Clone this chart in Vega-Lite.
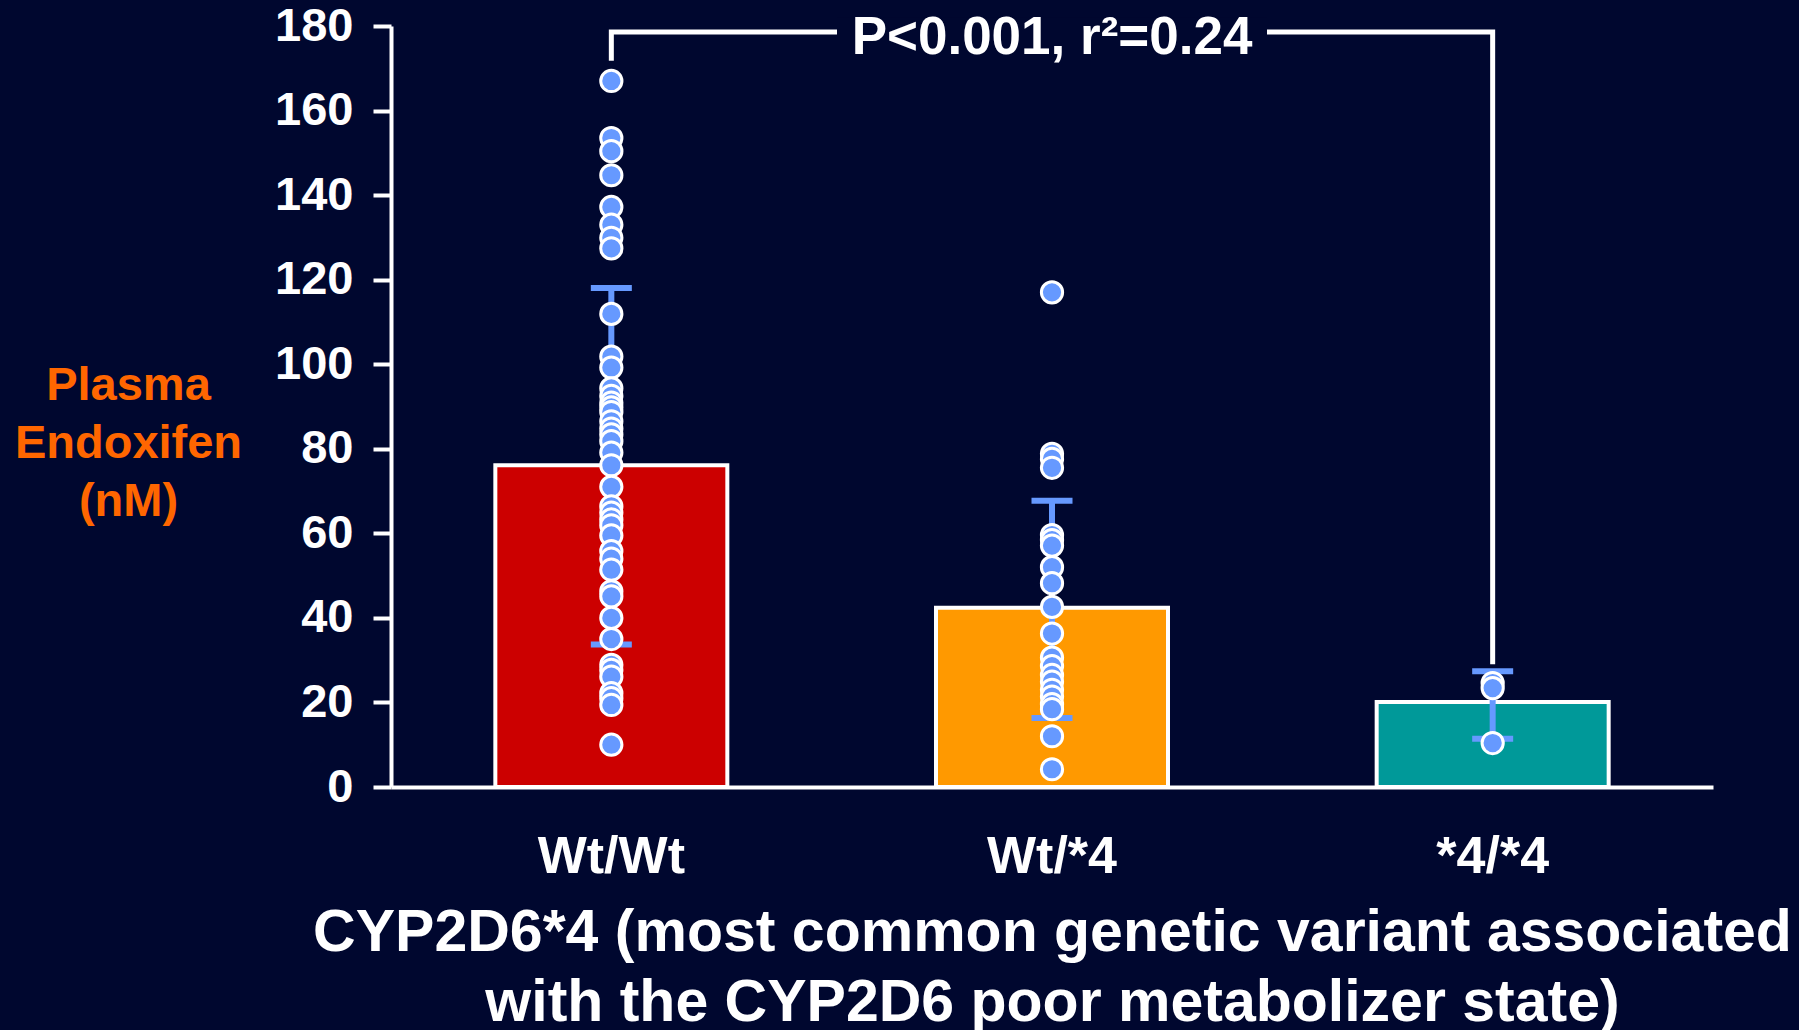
{
  "$schema": "https://vega.github.io/schema/vega-lite/v6.json",
  "width": 1322,
  "height": 761,
  "autosize": "none",
  "padding": {"left": 391, "top": 26, "right": 86, "bottom": 243},
  "background": "#00072F",
  "config": {"view": {"stroke": null}, "font": "Liberation Sans"},
  "datasets": {
    "points": [
      {"genotype": "Wt/Wt", "value": 167.0}, {"genotype": "Wt/Wt", "value": 153.5}, {"genotype": "Wt/Wt", "value": 150.4},
      {"genotype": "Wt/Wt", "value": 144.7}, {"genotype": "Wt/Wt", "value": 137.2}, {"genotype": "Wt/Wt", "value": 133.0},
      {"genotype": "Wt/Wt", "value": 129.9}, {"genotype": "Wt/Wt", "value": 127.4}, {"genotype": "Wt/Wt", "value": 111.9},
      {"genotype": "Wt/Wt", "value": 101.8}, {"genotype": "Wt/Wt", "value": 99.2}, {"genotype": "Wt/Wt", "value": 94.3},
      {"genotype": "Wt/Wt", "value": 92.5}, {"genotype": "Wt/Wt", "value": 90.9}, {"genotype": "Wt/Wt", "value": 89.8},
      {"genotype": "Wt/Wt", "value": 88.7}, {"genotype": "Wt/Wt", "value": 86.5}, {"genotype": "Wt/Wt", "value": 84.8},
      {"genotype": "Wt/Wt", "value": 83.4}, {"genotype": "Wt/Wt", "value": 81.8}, {"genotype": "Wt/Wt", "value": 79.1},
      {"genotype": "Wt/Wt", "value": 76.1}, {"genotype": "Wt/Wt", "value": 71.0}, {"genotype": "Wt/Wt", "value": 66.4},
      {"genotype": "Wt/Wt", "value": 64.9}, {"genotype": "Wt/Wt", "value": 63.3}, {"genotype": "Wt/Wt", "value": 61.9},
      {"genotype": "Wt/Wt", "value": 59.5}, {"genotype": "Wt/Wt", "value": 55.8}, {"genotype": "Wt/Wt", "value": 54.0},
      {"genotype": "Wt/Wt", "value": 51.4}, {"genotype": "Wt/Wt", "value": 46.3}, {"genotype": "Wt/Wt", "value": 45.1},
      {"genotype": "Wt/Wt", "value": 40.0}, {"genotype": "Wt/Wt", "value": 35.0}, {"genotype": "Wt/Wt", "value": 28.9},
      {"genotype": "Wt/Wt", "value": 27.7}, {"genotype": "Wt/Wt", "value": 26.1}, {"genotype": "Wt/Wt", "value": 22.2},
      {"genotype": "Wt/Wt", "value": 21.0}, {"genotype": "Wt/Wt", "value": 19.4}, {"genotype": "Wt/Wt", "value": 10.0},
      {"genotype": "Wt/*4", "value": 117.0}, {"genotype": "Wt/*4", "value": 78.8}, {"genotype": "Wt/*4", "value": 77.6},
      {"genotype": "Wt/*4", "value": 75.5}, {"genotype": "Wt/*4", "value": 59.6}, {"genotype": "Wt/*4", "value": 58.4},
      {"genotype": "Wt/*4", "value": 57.1}, {"genotype": "Wt/*4", "value": 52.0}, {"genotype": "Wt/*4", "value": 48.2},
      {"genotype": "Wt/*4", "value": 42.6}, {"genotype": "Wt/*4", "value": 36.3}, {"genotype": "Wt/*4", "value": 30.6},
      {"genotype": "Wt/*4", "value": 28.6}, {"genotype": "Wt/*4", "value": 26.5}, {"genotype": "Wt/*4", "value": 24.9},
      {"genotype": "Wt/*4", "value": 23.0}, {"genotype": "Wt/*4", "value": 21.4}, {"genotype": "Wt/*4", "value": 19.6},
      {"genotype": "Wt/*4", "value": 18.4}, {"genotype": "Wt/*4", "value": 12.0}, {"genotype": "Wt/*4", "value": 4.2},
      {"genotype": "*4/*4", "value": 24.6}, {"genotype": "*4/*4", "value": 23.4}, {"genotype": "*4/*4", "value": 10.4}
    ],
    "summary": [
      {"genotype": "Wt/Wt", "mean": 76.1, "lo": 33.7, "hi": 118.0},
      {"genotype": "Wt/*4", "mean": 42.4, "lo": 16.3, "hi": 67.7},
      {"genotype": "*4/*4", "mean": 20.1, "lo": 11.4, "hi": 27.4}
    ],
    "bracket": [
      {"genotype": "Wt/Wt", "value": 172.4, "step": 1},
      {"genotype": "Wt/Wt", "value": 178.6, "step": 2},
      {"genotype": "*4/*4", "value": 178.6, "step": 3},
      {"genotype": "*4/*4", "value": 29.6, "step": 4}
    ],
    "annotation": [
      {"genotype": "Wt/*4", "value": 178.6, "label": "P<0.001, r²=0.24"}
    ]
  },
  "layer": [
    {
      "data": {"name": "summary"},
      "mark": {"type": "bar", "size": 232, "stroke": "white", "strokeWidth": 4},
      "encoding": {
        "x": {
          "field": "genotype", "type": "nominal", "sort": ["Wt/Wt", "Wt/*4", "*4/*4"],
          "scale": {"paddingInner": 0, "paddingOuter": 0},
          "axis": {
            "title": ["CYP2D6*4 (most common genetic variant associated", "with the CYP2D6 poor metabolizer state)"],
            "titleFont": "Liberation Sans", "titleFontSize": 59, "titleFontWeight": "bold", "titleColor": "white",
            "titleLineHeight": 70, "titleBaseline": "top", "titleY": 116,
            "labelAngle": 0, "labelFont": "Liberation Sans", "labelFontSize": 52, "labelFontWeight": "bold",
            "labelColor": "white", "labelPadding": 44, "ticks": false, "tickSize": 0,
            "domainColor": "white", "domainWidth": 4, "grid": false
          }
        },
        "y": {
          "field": "mean", "type": "quantitative",
          "scale": {"domain": [0, 180], "nice": false},
          "axis": {
            "values": [0, 20, 40, 60, 80, 100, 120, 140, 160, 180],
            "title": ["Plasma", "Endoxifen", "(nM)"],
            "titleFont": "Liberation Sans", "titleFontSize": 47, "titleFontWeight": "bold", "titleColor": "#FF6600",
            "titleAngle": 0, "titleAlign": "center", "titleBaseline": "top", "titleLineHeight": 58,
            "titleX": -263, "titleY": 336,
            "labelFont": "Liberation Sans", "labelFontSize": 47, "labelFontWeight": "bold", "labelColor": "white",
            "labelPadding": 20, "tickColor": "white", "tickSize": 18, "tickWidth": 4,
            "domainColor": "white", "domainWidth": 4, "grid": false
          }
        },
        "color": {
          "field": "genotype", "type": "nominal",
          "scale": {"domain": ["Wt/Wt", "Wt/*4", "*4/*4"], "range": ["#CC0000", "#FF9900", "#009999"]},
          "legend": null
        }
      }
    },
    {
      "data": {"name": "summary"},
      "mark": {"type": "rule", "color": "#6699FF", "strokeWidth": 6},
      "encoding": {
        "x": {"field": "genotype", "type": "nominal", "sort": ["Wt/Wt", "Wt/*4", "*4/*4"]},
        "y": {"field": "lo", "type": "quantitative"},
        "y2": {"field": "hi"}
      }
    },
    {
      "data": {"name": "summary"},
      "mark": {"type": "tick", "color": "#6699FF", "size": 41, "thickness": 6, "opacity": 1},
      "encoding": {
        "x": {"field": "genotype", "type": "nominal", "sort": ["Wt/Wt", "Wt/*4", "*4/*4"]},
        "y": {"field": "lo", "type": "quantitative"}
      }
    },
    {
      "data": {"name": "summary"},
      "mark": {"type": "tick", "color": "#6699FF", "size": 41, "thickness": 6, "opacity": 1},
      "encoding": {
        "x": {"field": "genotype", "type": "nominal", "sort": ["Wt/Wt", "Wt/*4", "*4/*4"]},
        "y": {"field": "hi", "type": "quantitative"}
      }
    },
    {
      "data": {"name": "points"},
      "mark": {"type": "point", "shape": "circle", "filled": true, "size": 450, "fill": "#6699FF", "stroke": "white", "strokeWidth": 3, "opacity": 1},
      "encoding": {
        "x": {"field": "genotype", "type": "nominal", "sort": ["Wt/Wt", "Wt/*4", "*4/*4"]},
        "y": {"field": "value", "type": "quantitative"}
      }
    },
    {
      "data": {"name": "bracket"},
      "mark": {"type": "line", "color": "white", "strokeWidth": 5, "strokeCap": "square"},
      "encoding": {
        "x": {"field": "genotype", "type": "nominal", "sort": ["Wt/Wt", "Wt/*4", "*4/*4"]},
        "y": {"field": "value", "type": "quantitative"},
        "order": {"field": "step", "type": "quantitative"}
      }
    },
    {
      "data": {"name": "annotation"},
      "mark": {"type": "bar", "size": 430, "color": "#00072F", "clip": false},
      "encoding": {
        "x": {"field": "genotype", "type": "nominal", "sort": ["Wt/Wt", "Wt/*4", "*4/*4"]},
        "y": {"datum": 175.5},
        "y2": {"datum": 182}
      }
    },
    {
      "data": {"name": "annotation"},
      "mark": {"type": "text", "font": "Liberation Sans", "fontSize": 53, "fontWeight": "bold", "color": "white", "baseline": "alphabetic", "align": "center", "dy": 22},
      "encoding": {
        "x": {"field": "genotype", "type": "nominal", "sort": ["Wt/Wt", "Wt/*4", "*4/*4"]},
        "y": {"field": "value", "type": "quantitative"},
        "text": {"field": "label"}
      }
    }
  ]
}
